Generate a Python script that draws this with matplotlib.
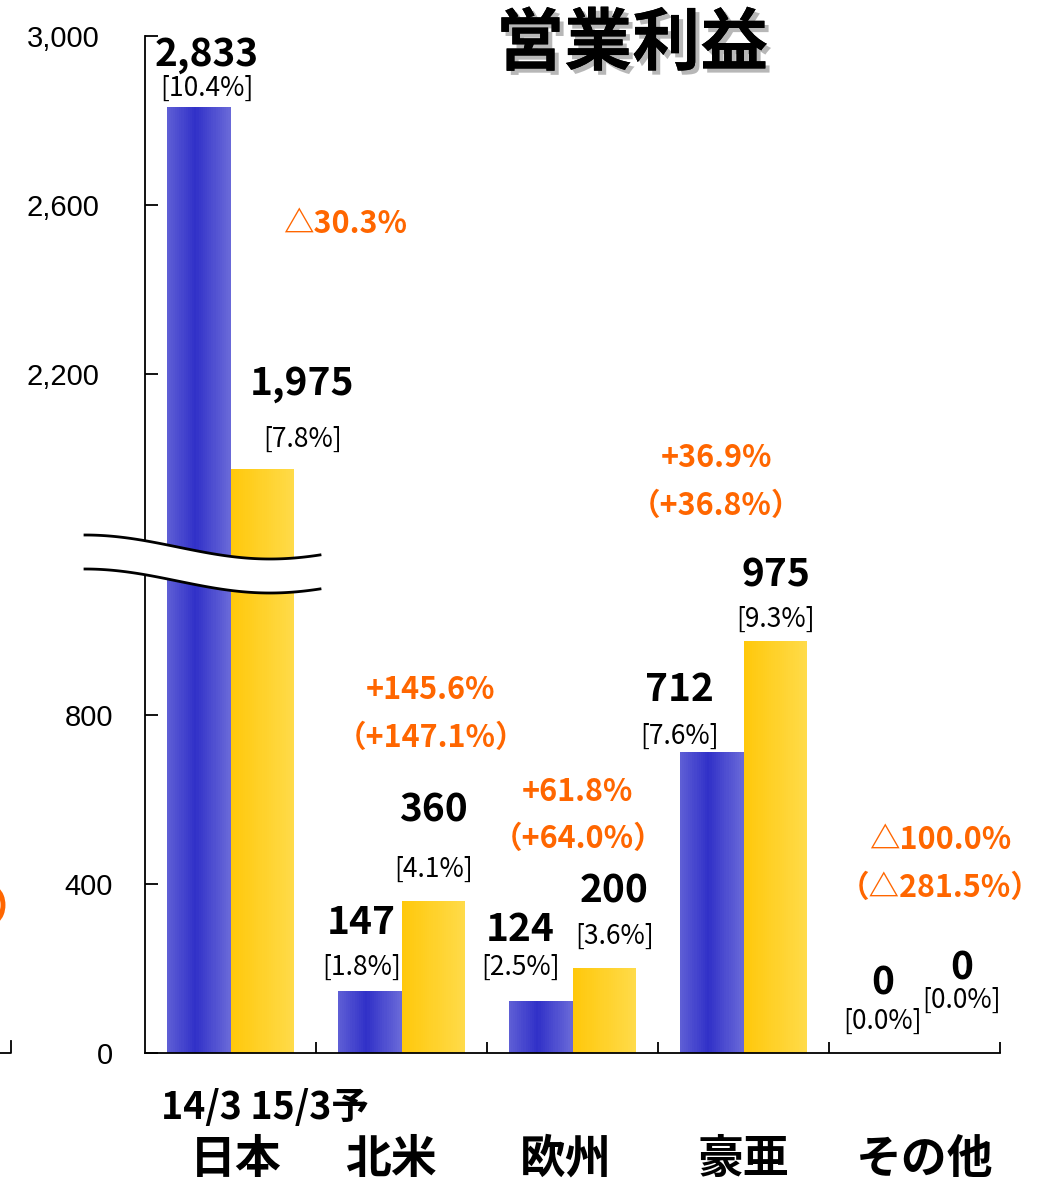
import numpy as np
import matplotlib.pyplot as plt
from matplotlib import patheffects
from matplotlib.ticker import FixedLocator, StrMethodFormatter
from matplotlib.patches import Polygon, Arc
from matplotlib.lines import Line2D

# Data
regions = ['日本', '北米', '欧州', '豪亜', 'その他']
profit_14 = [2833, 147, 124, 712, 0]
profit_15 = [1975, 360, 200, 975, 0]
margin_14 = ['[10.4%]', '[1.8%]', '[2.5%]', '[7.6%]', '[0.0%]']
margin_15 = ['[7.8%]', '[4.1%]', '[3.6%]', '[9.3%]', '[0.0%]']
change_yen = ['△30.3%', '+145.6%', '+61.8%', '+36.9%', '△100.0%']
change_local = ['', '（+147.1%）', '（+64.0%）', '（+36.8%）', '（△281.5%）']
y_ticks = [0, 400, 800, 2200, 2600, 3000]

# Config
JP = ['Noto Sans CJK JP', 'DejaVu Sans']
ORANGE = '#ff6600'
BREAK_LO, BREAK_HI, SHIFT = 1167, 1760, 593
W = 0.374
N_SLICE = 30


def fwd(v):
    v = np.asarray(v, dtype=float)
    return np.where(v > BREAK_HI, v - SHIFT, np.minimum(v, BREAK_LO))


def inv(d):
    d = np.asarray(d, dtype=float)
    return np.where(d > BREAK_LO, d + SHIFT, d)


def blue_col(t):
    light = np.array([0x6a, 0x6a, 0xd9]) / 255
    dark = np.array([0x31, 0x31, 0xc8]) / 255
    k = 1 - min(abs(t - 0.45) / 0.55, 1)
    return light + (dark - light) * k


def yellow_col(t):
    left = np.array([0xff, 0xc8, 0x0a]) / 255
    right = np.array([0xff, 0xdb, 0x4a]) / 255
    return left + (right - left) * t


def gradient_bar(ax, x0, value, colfunc):
    w = W / N_SLICE
    for k in range(N_SLICE):
        t = (k + 0.5) / N_SLICE
        ax.bar(x0 + k * w, value, width=w * 1.02, align='edge',
               color=colfunc(t), linewidth=0, antialiased=False, zorder=2)


fig = plt.figure(figsize=(10.48, 11.81), dpi=100)
ax = fig.add_axes([145 / 1048, 1 - 1053 / 1181, 855 / 1048, 1017 / 1181])
ax.set_yscale('function', functions=(fwd, inv))
ax.set_ylim(0, 3000)
ax.set_xlim(-0.5, 4.5)

x = np.arange(len(regions))
for i in x:
    if profit_14[i] > 0:
        gradient_bar(ax, i - W, profit_14[i], blue_col)
    if profit_15[i] > 0:
        gradient_bar(ax, i, profit_15[i], yellow_col)

# axes styling
for s in ['top', 'right']:
    ax.spines[s].set_visible(False)
for s in ['left', 'bottom']:
    ax.spines[s].set_linewidth(1.3)
ax.yaxis.set_major_locator(FixedLocator(y_ticks))
ax.yaxis.set_major_formatter(StrMethodFormatter('{x:,.0f}'))
ax.yaxis.set_minor_locator(FixedLocator([]))
ax.tick_params(axis='y', direction='in', length=9, width=1.3,
               labelsize=21, labelfontfamily='Liberation Sans')
for tk, v in zip(ax.yaxis.get_major_ticks(), y_ticks):
    tk.set_pad(33 if v >= 1000 else 23)
ax.set_xticks([0.5, 1.5, 2.5, 3.5, 4.5])
ax.set_xticklabels([])
ax.tick_params(axis='x', direction='in', length=8, width=1.3)

# value labels above bars
off_14 = [(8, 18, 52), (-8, 24, 68), (-20, 33, 71), (-32, 16, 63), (0, 32, 70)]
off_15 = [(40, 30, 86), (0, 32, 91), (10, 32, 77), (0, 22, 66), (15, 53, 85)]
for i in x:
    for xc, val, pct, off in [(i - W / 2, profit_14[i], margin_14[i], off_14[i]),
                              (i + W / 2, profit_15[i], margin_15[i], off_15[i])]:
        dx, dp, dv = off
        ax.annotate(pct, (xc, val), xytext=(dx, dp), textcoords='offset pixels',
                    ha='center', va='center', fontsize=19, family=JP, zorder=5)
        ax.annotate(f'{val:,}', (xc, val), xytext=(dx, dv), textcoords='offset pixels',
                    ha='center', va='center', fontsize=28, weight='bold', family=JP, zorder=5)

# orange change labels
chg_pos = [(0.67, 0.815), (1.17, 0.357), (2.03, 0.257), (2.84, 0.585), (4.15, 0.209)]
for (cx, cy), a, b in zip(chg_pos, change_yen, change_local):
    ax.text(cx, cy, a, transform=ax.get_xaxis_transform(), ha='center', va='center',
            fontsize=22, weight='bold', color=ORANGE, family=JP)
    if b:
        ax.text(cx, cy - 0.047, b, transform=ax.get_xaxis_transform(), ha='center',
                va='center', fontsize=22, weight='bold', color=ORANGE, family=JP)

# category labels
ax.text(0.2, -0.054, '14/3 15/3予', transform=ax.get_xaxis_transform(), ha='center',
        va='center', fontsize=27, weight='bold', family=JP)
cat_dx = [0.03, -0.06, -0.04, 0.0, 0.06]
for i, r in zip(x, regions):
    ax.text(i + cat_dx[i], -0.105, r, transform=ax.get_xaxis_transform(), ha='center',
            va='center', fontsize=33, weight='bold', family=JP)

# axis break (wavy white band)
xs = np.linspace(85, 320, 120)
top_y = 547 - 12 * np.cos(2 * np.pi * (xs - 85) / 370)
bot_y = top_y + 34
to_fig = lambda px, py: np.column_stack([px / 1048, 1 - py / 1181])
band = Polygon(np.vstack([to_fig(xs, top_y), to_fig(xs[::-1], bot_y[::-1])]),
               closed=True, facecolor='white', edgecolor='none',
               transform=fig.transFigure, zorder=10)
fig.add_artist(band)
for yy in (top_y, bot_y):
    pts = to_fig(xs, yy)
    fig.add_artist(Line2D(pts[:, 0], pts[:, 1], color='black', lw=2,
                          transform=fig.transFigure, zorder=11))

# title
fig.text(632 / 1048, 1 - 45 / 1181, '営業利益', ha='center', va='center', fontsize=49,
         weight='bold', family=JP,
         path_effects=[patheffects.withSimplePatchShadow(offset=(3, -3), shadow_rgbFace='#888888', alpha=0.6),
                       patheffects.Normal()])

# fragments of the neighbouring chart at the left edge
fig.add_artist(Arc((-8 / 1048, 1 - 905 / 1181), 22 / 1048, 34 / 1181, theta1=-70, theta2=70,
                   color=ORANGE, lw=3.5, transform=fig.transFigure))
fig.add_artist(Line2D([0, 11 / 1048, 11 / 1048], [1 - 1053 / 1181, 1 - 1053 / 1181, 1 - 1041 / 1181],
                      color='black', lw=1.3, transform=fig.transFigure))

plt.savefig('out.png', dpi=100)
